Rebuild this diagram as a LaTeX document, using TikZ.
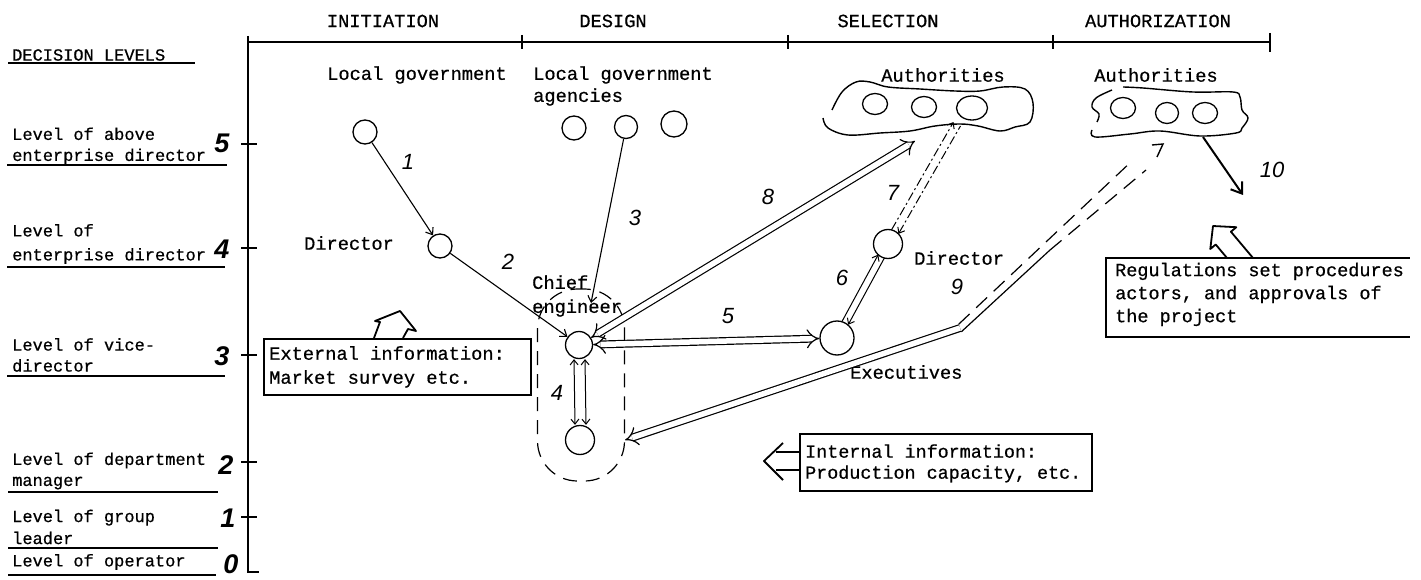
\documentclass[tikz,border=0pt]{standalone}
\usepackage{fontspec}
\usetikzlibrary{arrows.meta,calc,shapes.geometric}
\newfontfamily\tw{Liberation Mono}[FakeBold=0.6]
\newfontfamily\hw{Liberation Sans}
\begin{document}
\begin{tikzpicture}[x=1pt,y=-1pt,
  axis/.style={line width=2.2pt},
  uline/.style={line width=1.8pt},
  lev/.style={font={\tw\fontsize{17}{21}\selectfont}, anchor=west, align=left, inner sep=0pt},
  txt/.style={font={\tw\fontsize{18.7}{22}\selectfont}, inner sep=0pt},
  num/.style={font={\hw\itshape\fontsize{22}{22}\selectfont}, inner sep=0pt},
  axn/.style={font={\hw\bfseries\itshape\fontsize{27}{27}\selectfont}, inner sep=0pt},
  actor/.style={circle, draw, line width=1.3pt, inner sep=0pt, minimum size=#1},
  oval/.style={ellipse, draw, line width=1.3pt, inner sep=0pt, minimum width=25pt, minimum height=21pt},
  link/.style={line width=1.1pt, -{Straight Barb[length=6pt,width=9pt]}},
  thinpair/.style={line width=1pt},
  barb/.tip={Straight Barb[length=5pt,width=8pt]},
  dbl/.style={double, double distance=5.5pt, line width=1.2pt},
  hollow/.style={line width=1.8pt, line join=round},
  boxr/.style={line width=1.8pt, inner sep=0pt, anchor=north west},
  dd7/.style={line width=1pt, dash pattern=on 9pt off 3pt on 2pt off 3pt},
  d9/.style={line width=1.2pt, dash pattern=on 15pt off 9pt},
  blob/.style={line width=1.4pt}
]
\fill[white] (0,0) rectangle (1421,580);
\useasboundingbox (0,0) rectangle (1421,580);

% ---- axes
\draw[axis] (248,36) -- (248,572) -- (259,572);
\draw[axis] (248,42) -- (1270,42);
\draw[line width=1.8pt] (522,35) -- (522,49);
\draw[line width=1.8pt] (788,35) -- (788,49);
\draw[line width=1.8pt] (1053,35) -- (1053,49);
\draw[axis] (1270,33) -- (1270,52);
\foreach \y in {144,248,355,462,517} \draw[line width=1.8pt] (241,\y) -- (257,\y);
\node[axn] (a5) at (222,143) {5};
\node[axn] (a4) at (222,249) {4};
\node[axn] (a3) at (222,356) {3};
\node[axn] (a2) at (226,465) {2};
\node[axn] (a1) at (228,518) {1};
\node[axn] (a0) at (231,564) {0};

% ---- phases
\node[txt] (ph1) at (383,21) {INITIATION};
\node[txt] (ph2) at (613,21) {DESIGN};
\node[txt] (ph3) at (888,21) {SELECTION};
\node[txt] (ph4) at (1158,21) {AUTHORIZATION};

% ---- decision levels
\node[lev] (dl) at (12,55) {DECISION LEVELS};
\draw[uline] (8,63) -- (195,63);
\node[lev] (lv5) at (12,146) {Level of above\\enterprise director};
\draw[uline] (7,165) -- (227,165);
\node[lev, font={\tw\fontsize{17}{24}\selectfont}] (lv4) at (12,244) {Level of\\enterprise director};
\draw[uline] (7,267) -- (225,267);
\node[lev] (lv3) at (12,355) {Level of vice-\\director};
\draw[uline] (7,376) -- (225,376);
\node[lev] (lv2) at (12,471) {Level of department\\manager};
\draw[uline] (8,492) -- (218,492);
\node[lev, font={\tw\fontsize{17}{22}\selectfont}] (lv1) at (12,527) {Level of group\\leader};
\draw[uline] (8,548) -- (218,548);
\node[lev] (lv0) at (12,562) {Level of operator};
\draw[uline] (8,575) -- (216,575);

% ---- text labels
\node[txt, anchor=west] (lgt) at (327,75) {Local government};
\node[txt, anchor=west, align=left] (agt) at (533,86) {Local government\\agencies};
\node[txt] (aut1) at (943,75) {Authorities};
\node[txt] (aut2) at (1156,75) {Authorities};
\node[txt] (dirt1) at (349,243) {Director};
\node[txt, anchor=west, align=left, font={\tw\fontsize{18.7}{24}\selectfont}] (chieft) at (532,296) {Chief\\engineer};
\node[txt, anchor=west] (dirt2) at (914,258) {Director};
\node[txt, anchor=west] (exect) at (850,372) {Executives};

% ---- actors
\node[actor=24pt] (lg) at (365,132) {};
\node[actor=24pt] (dir1) at (440,246) {};
\node[actor=24pt] (ag1) at (574,128) {};
\node[actor=23pt] (ag2) at (626,127) {};
\node[actor=26pt] (ag3) at (674,124) {};
\node[actor=27pt] (chief) at (579,345) {};
\node[actor=29pt] (dept) at (580,440) {};
\node[actor=34pt] (exec) at (837,338) {};
\node[actor=29pt] (dir2) at (888,244) {};
\node[oval] (au1) at (875,104) {};
\node[oval] (au2) at (924,107) {};
\node[oval, minimum width=31pt, minimum height=24pt] (au3) at (972,108) {};
\node[oval] (az1) at (1123,108) {};
\node[oval, minimum width=23pt] (az2) at (1167,113) {};
\node[oval] (az3) at (1205,113) {};

% ---- dashed group
\node[draw, line width=1.2pt, dash pattern=on 14pt off 9pt, rounded corners=40pt,
      minimum width=87pt, minimum height=192pt] (grp) at (581,385) {};

% ---- blobs
\draw[blob] plot[smooth, tension=0.6] coordinates {(832,110) (842,92) (856,82) (870,82) (888,87) (920,89) (955,91) (980,91) (1003,87) (1025,89) (1033,103) (1030,122) (1015,127) (1000,131) (978,126) (960,124) (935,126) (910,131) (880,133) (848,135) (828,128) (823,118)};
\draw[blob] plot[smooth, tension=0.6] coordinates {(1112,90) (1096,98) (1092,107) (1099,114) (1097,122)};
\draw[blob] plot[smooth, tension=0.6] coordinates {(1123,87) (1143,88) (1193,92) (1233,92) (1240,97) (1242,110) (1248,118) (1242,128) (1236,133) (1200,136) (1160,131) (1130,134) (1095,137) (1092,130)};

% ---- boxes
\node[boxr, draw, minimum width=267pt, minimum height=56pt] (ext) at (263,338) {};
\node[txt, anchor=west, align=left, font={\tw\fontsize{18.7}{24}\selectfont}] (extt) at ($(ext.west)+(6,0)$) {External information:\\Market survey etc.};
\node[boxr, draw, minimum width=292pt, minimum height=57pt] (int) at (799,433) {};
\node[txt, anchor=west, align=left, font={\tw\fontsize{18.4}{21}\selectfont}] (intt) at ($(int.west)+(6,1)$) {Internal information:\\Production capacity, etc.};
\node[boxr, minimum width=302pt, minimum height=77pt] (reg) at (1106,258) {};
\draw[line width=1.8pt] (reg.north east) -- (reg.north west) -- (reg.south west) -- (reg.south east);
\node[txt, anchor=west, align=left, font={\tw\fontsize{18.5}{23}\selectfont}] (regt) at ($(reg.west)+(9,-3)$) {Regulations set procedures\\actors, and approvals of\\the project};

% ---- hollow arrows
\draw[hollow] (374,338) -- (380,322) -- (375,321) -- (400,311) -- (416,331) -- (408,329) -- (403,338);
\draw[hollow] (799,452) -- (776,452);
\draw[hollow] (799,470) -- (776,470);
\draw[hollow] (783,443) -- (764,461) -- (783,480);
\draw[hollow] (1227,258) -- (1215.7,244.5) -- (1210.3,249) -- (1213,226) -- (1236.3,227.2) -- (1230.9,231.7) -- (1253,258);

% ---- connectors
\draw[link] (lg) -- (dir1);
\draw[link] (dir1) -- (chief);
\coordinate (c3) at (591,303);
\draw[link] (ag2) -- (c3);
% 4
\draw[thinpair, barb-barb] ([xshift=-5pt]chief.south) -- ([xshift=-5pt]dept.north);
\draw[thinpair, barb-barb] ([xshift=6pt]chief.south) -- ([xshift=6pt]dept.north);
% 5
\draw[dbl, {Implies}-{Implies}] (chief) -- (exec);
% 6
\draw[thinpair, -barb, shorten <=17pt, shorten >=14pt] ($(exec)!3.5pt!90:(dir2)$) -- ($(dir2)!3.5pt!-90:(exec)$);
\draw[thinpair, barb-, shorten <=17pt, shorten >=14pt] ($(exec)!3.5pt!-90:(dir2)$) -- ($(dir2)!3.5pt!90:(exec)$);
% 7
\coordinate (b7) at (957,124);
\draw[dd7, -barb, shorten <=14pt] ($(dir2)!4pt!90:(b7)$) -- ($(b7)!4pt!-90:(dir2)$);
\draw[dd7, barb-, shorten <=14pt] ($(dir2)!4pt!-90:(b7)$) -- ($(b7)!4pt!90:(dir2)$);
% 8
\coordinate (b8) at (915,141);
\draw[dbl, {Implies}-{Implies}] (chief) -- (b8);
% 9
\coordinate (m9) at (960,328);
\draw[dbl, {Implies}-] (grp.east |- dept) -- (m9);
\coordinate (u9s) at (958.7,324.2);
\coordinate (u9e) at (1133,160);
\coordinate (l9s) at (961.3,331.8);
\coordinate (l9m) at (1050,250);
\coordinate (l9e) at (1146,170);
\draw[d9] (u9s) -- (u9e);
\draw[line width=1.2pt] (l9s) -- (l9m);
\draw[d9] (l9m) -- (l9e);
\draw[line width=1.4pt] (1152,145) -- (1163,144) -- (1157,157);
% 10
\coordinate (b10) at (1203,137);
\coordinate (t10) at (1243,195);
\draw[line width=2pt, -{Straight Barb[length=10pt,width=14pt]}] (b10) -- (t10);

% ---- numbers
\node[num] (n1) at (408,162) {1};
\node[num] (n2) at (508,262) {2};
\node[num] (n3) at (635,218) {3};
\node[num] (n4) at (557,393) {4};
\node[num] (n5) at (728,316) {5};
\node[num] (n6) at (842,278) {6};
\node[num] (n7) at (893,193) {7};
\node[num] (n8) at (768,197) {8};
\node[num] (n9) at (957,287) {9};
\node[num] (n10) at (1272,170) {10};
\end{tikzpicture}
\end{document}
